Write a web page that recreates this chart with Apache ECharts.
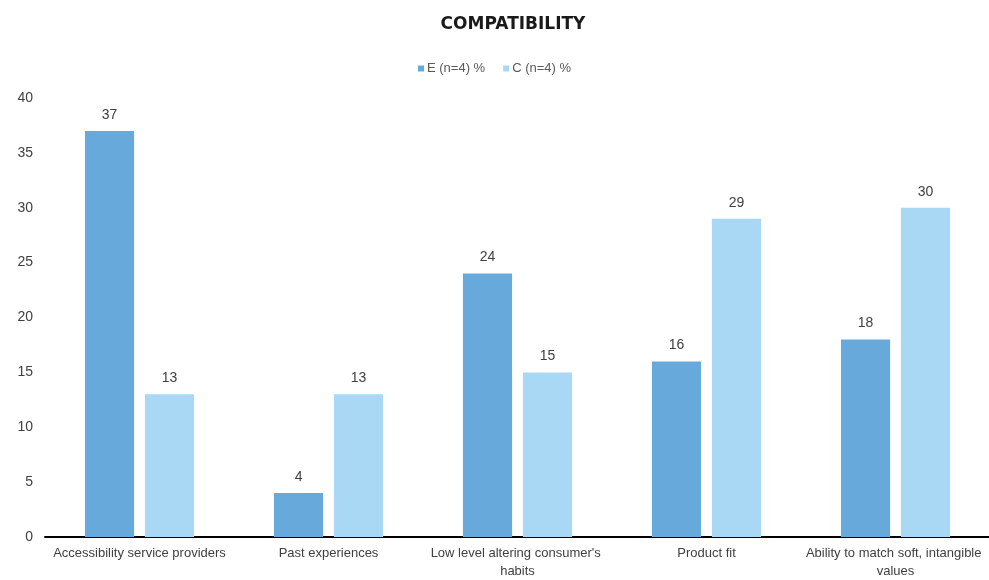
<!DOCTYPE html>
<html>
<head>
<meta charset="utf-8">
<script src="https://cdn.jsdelivr.net/npm/echarts@6/dist/echarts.min.js"></script>
<style>
  html, body { margin: 0; padding: 0; background: #fff; }
  #chart { width: 989px; height: 580px; }
</style>
</head>
<body>
<div id="chart"></div>
<script>
// Compatibility factors, share of respondents (%)
const categories = [
  'Accessibility service providers',
  'Past experiences',
  "Low level altering consumer's habits",
  'Product fit',
  'Ability to match soft, intangible values'
];
const seriesNames = ['E (n=4) %', 'C (n=4) %'];
const valuesE = [37, 4, 24, 16, 18];
const valuesC = [13, 13, 15, 29, 30];
const yTicks = { min: 0, max: 40, interval: 5 };

const labelFont = '"Liberation Sans", Arial, sans-serif';
const colors = ['#67A9DA', '#A9D8F4'];

const chart = echarts.init(document.getElementById('chart'));

function barSeries(name, data, color) {
  return {
    name: name,
    type: 'bar',
    data: data,
    barWidth: '26%',
    barGap: '22%',
    itemStyle: { color: color },
    label: {
      show: true,
      position: 'top',
      distance: 9,
      color: '#404040',
      fontSize: 14,
      fontFamily: labelFont
    }
  };
}

chart.setOption({
  backgroundColor: '#ffffff',
  animation: false,
  title: {
    text: 'COMPATIBILITY',
    left: 508,
    textAlign: 'center',
    top: 11,
    textStyle: {
      fontFamily: '"DejaVu Sans", sans-serif',
      fontWeight: 'bold',
      fontSize: 17,
      color: '#1a1a1a'
    }
  },
  legend: {
    data: seriesNames,
    top: 57,
    left: 'center',
    itemWidth: 6,
    itemHeight: 6,
    itemGap: 18,
    icon: 'rect',
    textStyle: { color: '#595959', fontSize: 13, fontFamily: labelFont, padding: [0, 0, 0, -2] }
  },
  grid: { left: 45, width: 945, top: 98, bottom: 43, outerBoundsMode: 'none', containLabel: false },
  xAxis: {
    type: 'category',
    data: categories,
    axisLine: { lineStyle: { color: '#000', width: 2 } },
    axisTick: { show: false },
    axisLabel: {
      color: '#404040',
      fontSize: 13,
      fontFamily: labelFont,
      interval: 0,
      width: 186,
      overflow: 'break',
      lineHeight: 18,
      margin: 7
    }
  },
  yAxis: {
    type: 'value',
    min: yTicks.min,
    max: yTicks.max,
    interval: yTicks.interval,
    splitLine: { show: false },
    axisLine: { show: false },
    axisTick: { show: false },
    axisLabel: { color: '#404040', fontSize: 14, fontFamily: labelFont, margin: 12 }
  },
  series: [
    barSeries(seriesNames[0], valuesE, colors[0]),
    barSeries(seriesNames[1], valuesC, colors[1])
  ]
});
</script>
</body>
</html>
